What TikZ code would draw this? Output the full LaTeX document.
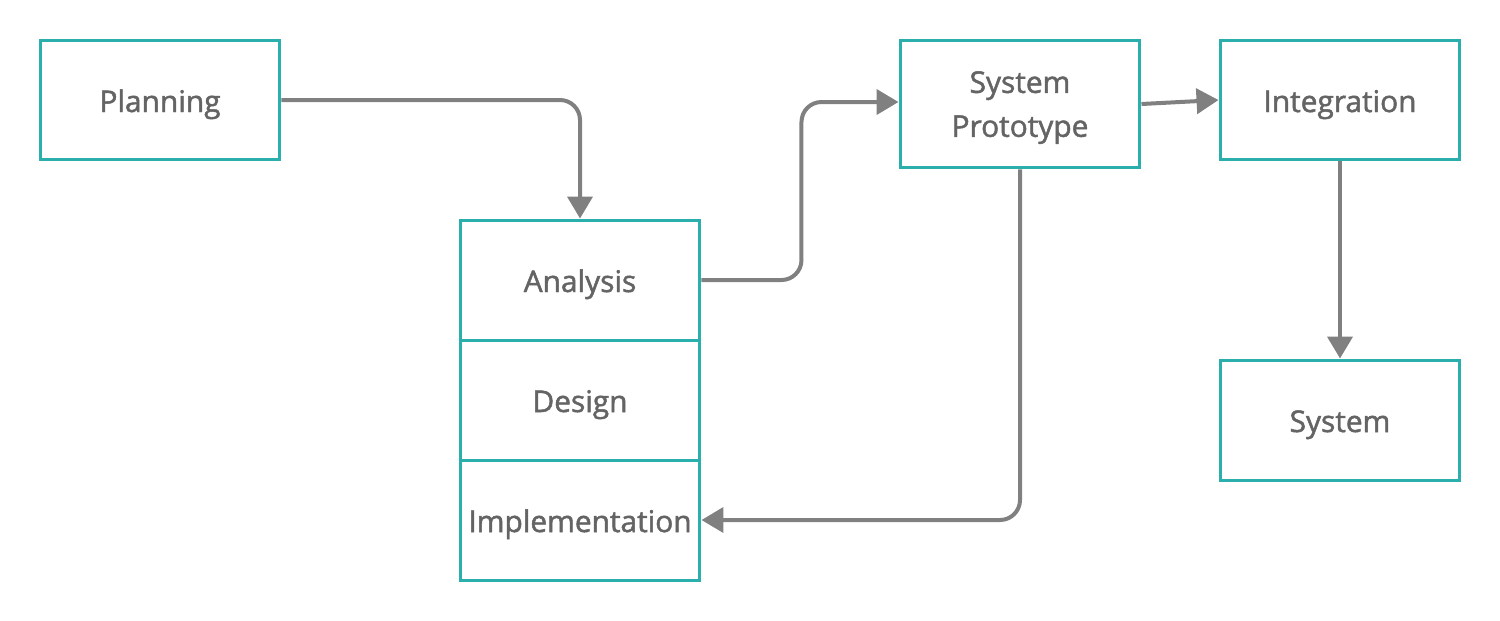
\documentclass[tikz,border=0pt]{standalone}
\usepackage{fontspec}
\setmainfont{Open Sans}
\newfontfamily\stagefont{Open Sans}[FakeBold=1.6]
\usepackage{xcolor}
\usepackage{tikz}
\usetikzlibrary{positioning,arrows.meta}
\definecolor{tealedge}{HTML}{2AAFAD}
\definecolor{flowgray}{HTML}{808080}
\definecolor{textgray}{HTML}{646464}
\tikzstyle{stage} = [rectangle, draw=tealedge, line width=0.06cm, fill=white, minimum width=4.8cm, minimum height=2.4cm, inner sep=0pt, text=textgray, font=\stagefont\fontsize{17}{25}\selectfont, align=center, text height=0.48cm, text depth=0pt]
\tikzstyle{arrow} = [-{Triangle[length=0.44cm, width=0.5cm]}, draw=flowgray, line width=0.08cm, rounded corners=0.4cm]

\begin{document}
\begin{tikzpicture}[x=0.02cm, y=-0.02cm]
    \useasboundingbox (0,0) rectangle (1500,620);
    % Stages
    \node[stage] (plan) at (160,100) {Planning};
    \node[stage] (ana) at (580,280) {Analysis};
    \node[stage] (des) at (580,400) {Design};
    \node[stage] (impl) at (580,520) {Implementation};
    \node[stage, minimum height=2.56cm, text height=] (proto) at (1020,104) {System\\Prototype};
    \node[stage] (integ) at (1340,100) {Integration};
    \node[stage] (sys) at (1340,420) {System};

    % Flow
    \draw[arrow] (plan.east) -| (ana.north);
    \draw[arrow] (ana.east) -- ++(100,0) |- ([yshift=0.04cm]proto.west);
    \draw[arrow] (proto.east) -- (integ.west);
    \draw[arrow] (proto.south) |- (impl.east);
    \draw[arrow] (integ.south) -- (sys.north);
\end{tikzpicture}
\end{document}
